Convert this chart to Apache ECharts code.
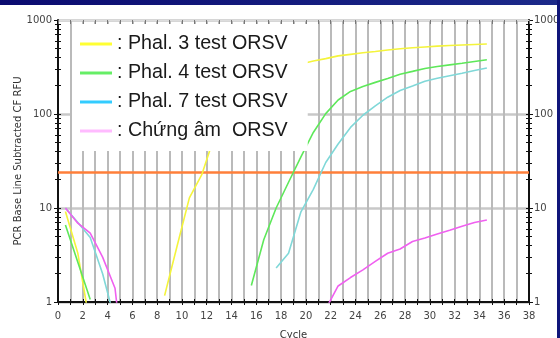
<!DOCTYPE html>
<html>
<head>
<meta charset="utf-8">
<script src="https://cdn.jsdelivr.net/npm/echarts@6.0.0/dist/echarts.min.js"></script>
<style>
  html, body { margin: 0; padding: 0; background: #fff; }
  #chart { width: 560px; height: 338px; }
</style>
</head>
<body>
<div id="chart"></div>
<script>
// cycle positions of the readings
var cycles = [0.6, 1.6, 2.6, 3.6, 4.6, 5.6, 6.6, 7.6, 8.6, 9.6, 10.6, 11.6, 12.6, 13.6, 14.6, 15.6, 16.6, 17.6,
    18.6, 19.6, 20.6, 21.6, 22.6, 23.6, 24.6, 25.6, 26.6, 27.6, 28.6, 29.6, 30.6, 31.6, 32.6, 33.6, 34.6];

// RFU, null = negative reading (not plotted on log scale)
var phal3 = [9.2, 3.3, 0.55, null, null, null, null, null, 1.17, 3.9, 12.8, 22.6, 57, 100, 160, 210, 255, 290,
    318, 340, 366, 388, 415, 431, 448, 462, 480, 494, 506, 517, 527, 535, 542, 549, 556];
var phal4 = [6.6, 2.65, 1.06, null, null, null, null, null, null, null, null, null, null, null, null, 1.5, 4.6, 10.0,
    18.8, 35, 63.6, 101, 141, 174, 196, 217, 239, 265, 284, 305, 320, 333, 346, 362, 377];
var phal7 = [10, 7.0, 4.85, 2.0, 0.63, null, null, null, null, null, null, null, null, null, null, null, null, 2.3,
    3.3, 9.1, 15.8, 30.5, 48, 72, 97, 122, 151, 178, 199, 223, 240, 255, 271, 290, 309];
var chungAm = [10, 6.9, 5.4, 3.0, 1.4, 0.1, null, null, null, null, null, null, null, null, null, null, null, null,
    null, null, null, 0.84, 1.48, 1.82, 2.2, 2.7, 3.3, 3.66, 4.4, 4.8, 5.3, 5.8, 6.4, 7.0, 7.45];

var seriesNames = ['Phal. 3 test ORSV', 'Phal. 4 test ORSV', 'Phal. 7 test ORSV', 'Chứng âm  ORSV'];
var lineColors = ['#f4f43c', '#5ee85a', '#80d8d8', '#f060f0'];
var legendColors = ['#ffff33', '#66ee66', '#33ccff', '#ffbbff'];
var threshold = 24;

// minor ticks of the log axes
var logTicks = [2, 3, 4, 5, 6, 7, 8, 9, 20, 30, 40, 50, 60, 70, 80, 90, 200, 300, 400, 500, 600, 700, 800, 900];

function pairs(values) {
    var out = [];
    for (var i = 0; i < cycles.length; i++) {
        out.push([cycles[i], values[i]]);
    }
    return out;
}

var allValues = [phal3, phal4, phal7, chungAm];
var series = [];
for (var s = 0; s < allValues.length; s++) {
    series.push({
        name: seriesNames[s],
        type: 'line',
        data: pairs(allValues[s]),
        showSymbol: false,
        connectNulls: false,
        clip: true,
        lineStyle: { color: lineColors[s], width: 1.6 },
        itemStyle: { color: lineColors[s] },
        z: 3
    });
}
// threshold line
series[0].markLine = {
    silent: true,
    symbol: 'none',
    label: { show: false },
    lineStyle: { color: '#ff7f3a', width: 2.5, type: 'solid' },
    data: [{ yAxis: threshold }],
    z: 2
};

var gridGray = '#bababa';
var labelFont = { fontFamily: 'DejaVu Sans', fontSize: 10, color: '#444' };

function logAxis(pos, opts) {
    var base = {
        type: 'log',
        position: pos,
        min: 1,
        max: 1000,
        axisLine: { show: false },
        axisLabel: { show: false },
        splitLine: { show: false }
    };
    return Object.assign(base, opts);
}

var chart = echarts.init(document.getElementById('chart'));
var option = {
    animation: false,
    backgroundColor: '#fff',
    grid: { left: 58, right: 31, top: 20, bottom: 36, containLabel: false, outerBoundsMode: 'none' },
    legend: {
        orient: 'vertical',
        left: 72,
        top: 24,
        backgroundColor: '#fff',
        padding: [10, 20, 10, 8],
        itemWidth: 32,
        itemHeight: 3,
        itemGap: 9,
        selectedMode: false,
        formatter: ': {name}',
        textStyle: { fontFamily: 'Liberation Sans', fontSize: 19.7, color: '#1a1a1a', lineHeight: 20 },
        data: seriesNames.map(function (n, i) {
            return { name: n, icon: 'rect', itemStyle: { color: legendColors[i] } };
        }),
        z: 10
    },
    xAxis: [{
        type: 'value',
        position: 'bottom',
        min: 0,
        max: 38,
        interval: 2,
        name: 'Cycle',
        nameLocation: 'middle',
        nameGap: 28,
        nameTextStyle: { fontFamily: 'DejaVu Sans', fontSize: 10, color: '#333' },
        axisLine: { lineStyle: { color: '#111', width: 2 } },
        axisTick: { length: 3, lineStyle: { color: '#111' } },
        minorTick: { show: true, splitNumber: 2, length: 3, lineStyle: { color: '#111' } },
        axisLabel: Object.assign({ margin: 9 }, labelFont),
        splitLine: { show: true, lineStyle: { color: gridGray, width: 2 } },
        minorSplitLine: { show: true, lineStyle: { color: gridGray, width: 2 } }
    }, {
        type: 'value',
        position: 'bottom',
        min: 0,
        max: 38,
        interval: 2,
        axisLine: { show: false },
        axisTick: { inside: true, length: 3, lineStyle: { color: '#111' } },
        minorTick: { show: true, splitNumber: 2, length: 3, lineStyle: { color: '#111' } },
        axisLabel: { show: false },
        splitLine: { show: false }
    }, {
        type: 'value',
        position: 'top',
        min: 0,
        max: 38,
        interval: 2,
        axisLine: { show: true, lineStyle: { color: '#ddd', width: 1 } },
        axisTick: { inside: true, length: 4, lineStyle: { color: '#777' } },
        minorTick: { show: true, splitNumber: 2, length: 4, lineStyle: { color: '#777' } },
        axisLabel: { show: false },
        splitLine: { show: false }
    }],
    yAxis: [
        logAxis('left', {
            name: 'PCR Base Line Subtracted CF RFU',
            nameLocation: 'middle',
            nameGap: 35,
            nameMoveOverlap: false,
            nameTextStyle: { fontFamily: 'DejaVu Sans', fontSize: 10, color: '#333' },
            axisLine: { show: true, lineStyle: { color: '#111', width: 2 } },
            axisTick: { show: true, length: 4, lineStyle: { color: '#111' } },
            axisLabel: Object.assign({ margin: 6, formatter: function (v) { return String(v); } }, labelFont),
            splitLine: { show: true, lineStyle: { color: '#c8c8c8', width: 2.5 } }
        }),
        logAxis('left', { axisTick: { show: true, length: 3, customValues: logTicks, lineStyle: { color: '#111' } } }),
        logAxis('left', { axisTick: { show: true, inside: true, length: 3, customValues: logTicks.concat([10, 100]), lineStyle: { color: '#111' } } }),
        logAxis('right', {
            axisLine: { show: true, lineStyle: { color: '#111', width: 2 } },
            axisTick: { show: true, length: 4, lineStyle: { color: '#111' } },
            axisLabel: Object.assign({ margin: 5, formatter: function (v) { return String(v); } }, labelFont)
        }),
        logAxis('right', { axisTick: { show: true, length: 3, customValues: logTicks, lineStyle: { color: '#111' } } }),
        logAxis('right', { axisTick: { show: true, inside: true, length: 3, customValues: logTicks.concat([10, 100]), lineStyle: { color: '#111' } } })
    ],
    graphic: [{
        type: 'rect',
        shape: { x: 0, y: 0, width: 560, height: 5 },
        style: {
            fill: new echarts.graphic.LinearGradient(0, 0, 1, 0, [
                { offset: 0, color: '#0b0b70' },
                { offset: 1, color: '#1c2a8a' }
            ])
        },
        z: 20
    }, {
        type: 'rect',
        shape: { x: 557, y: 0, width: 3, height: 338 },
        style: { fill: '#10167a' },
        z: 20
    }],
    series: series
};

chart.setOption(option);
</script>
</body>
</html>
